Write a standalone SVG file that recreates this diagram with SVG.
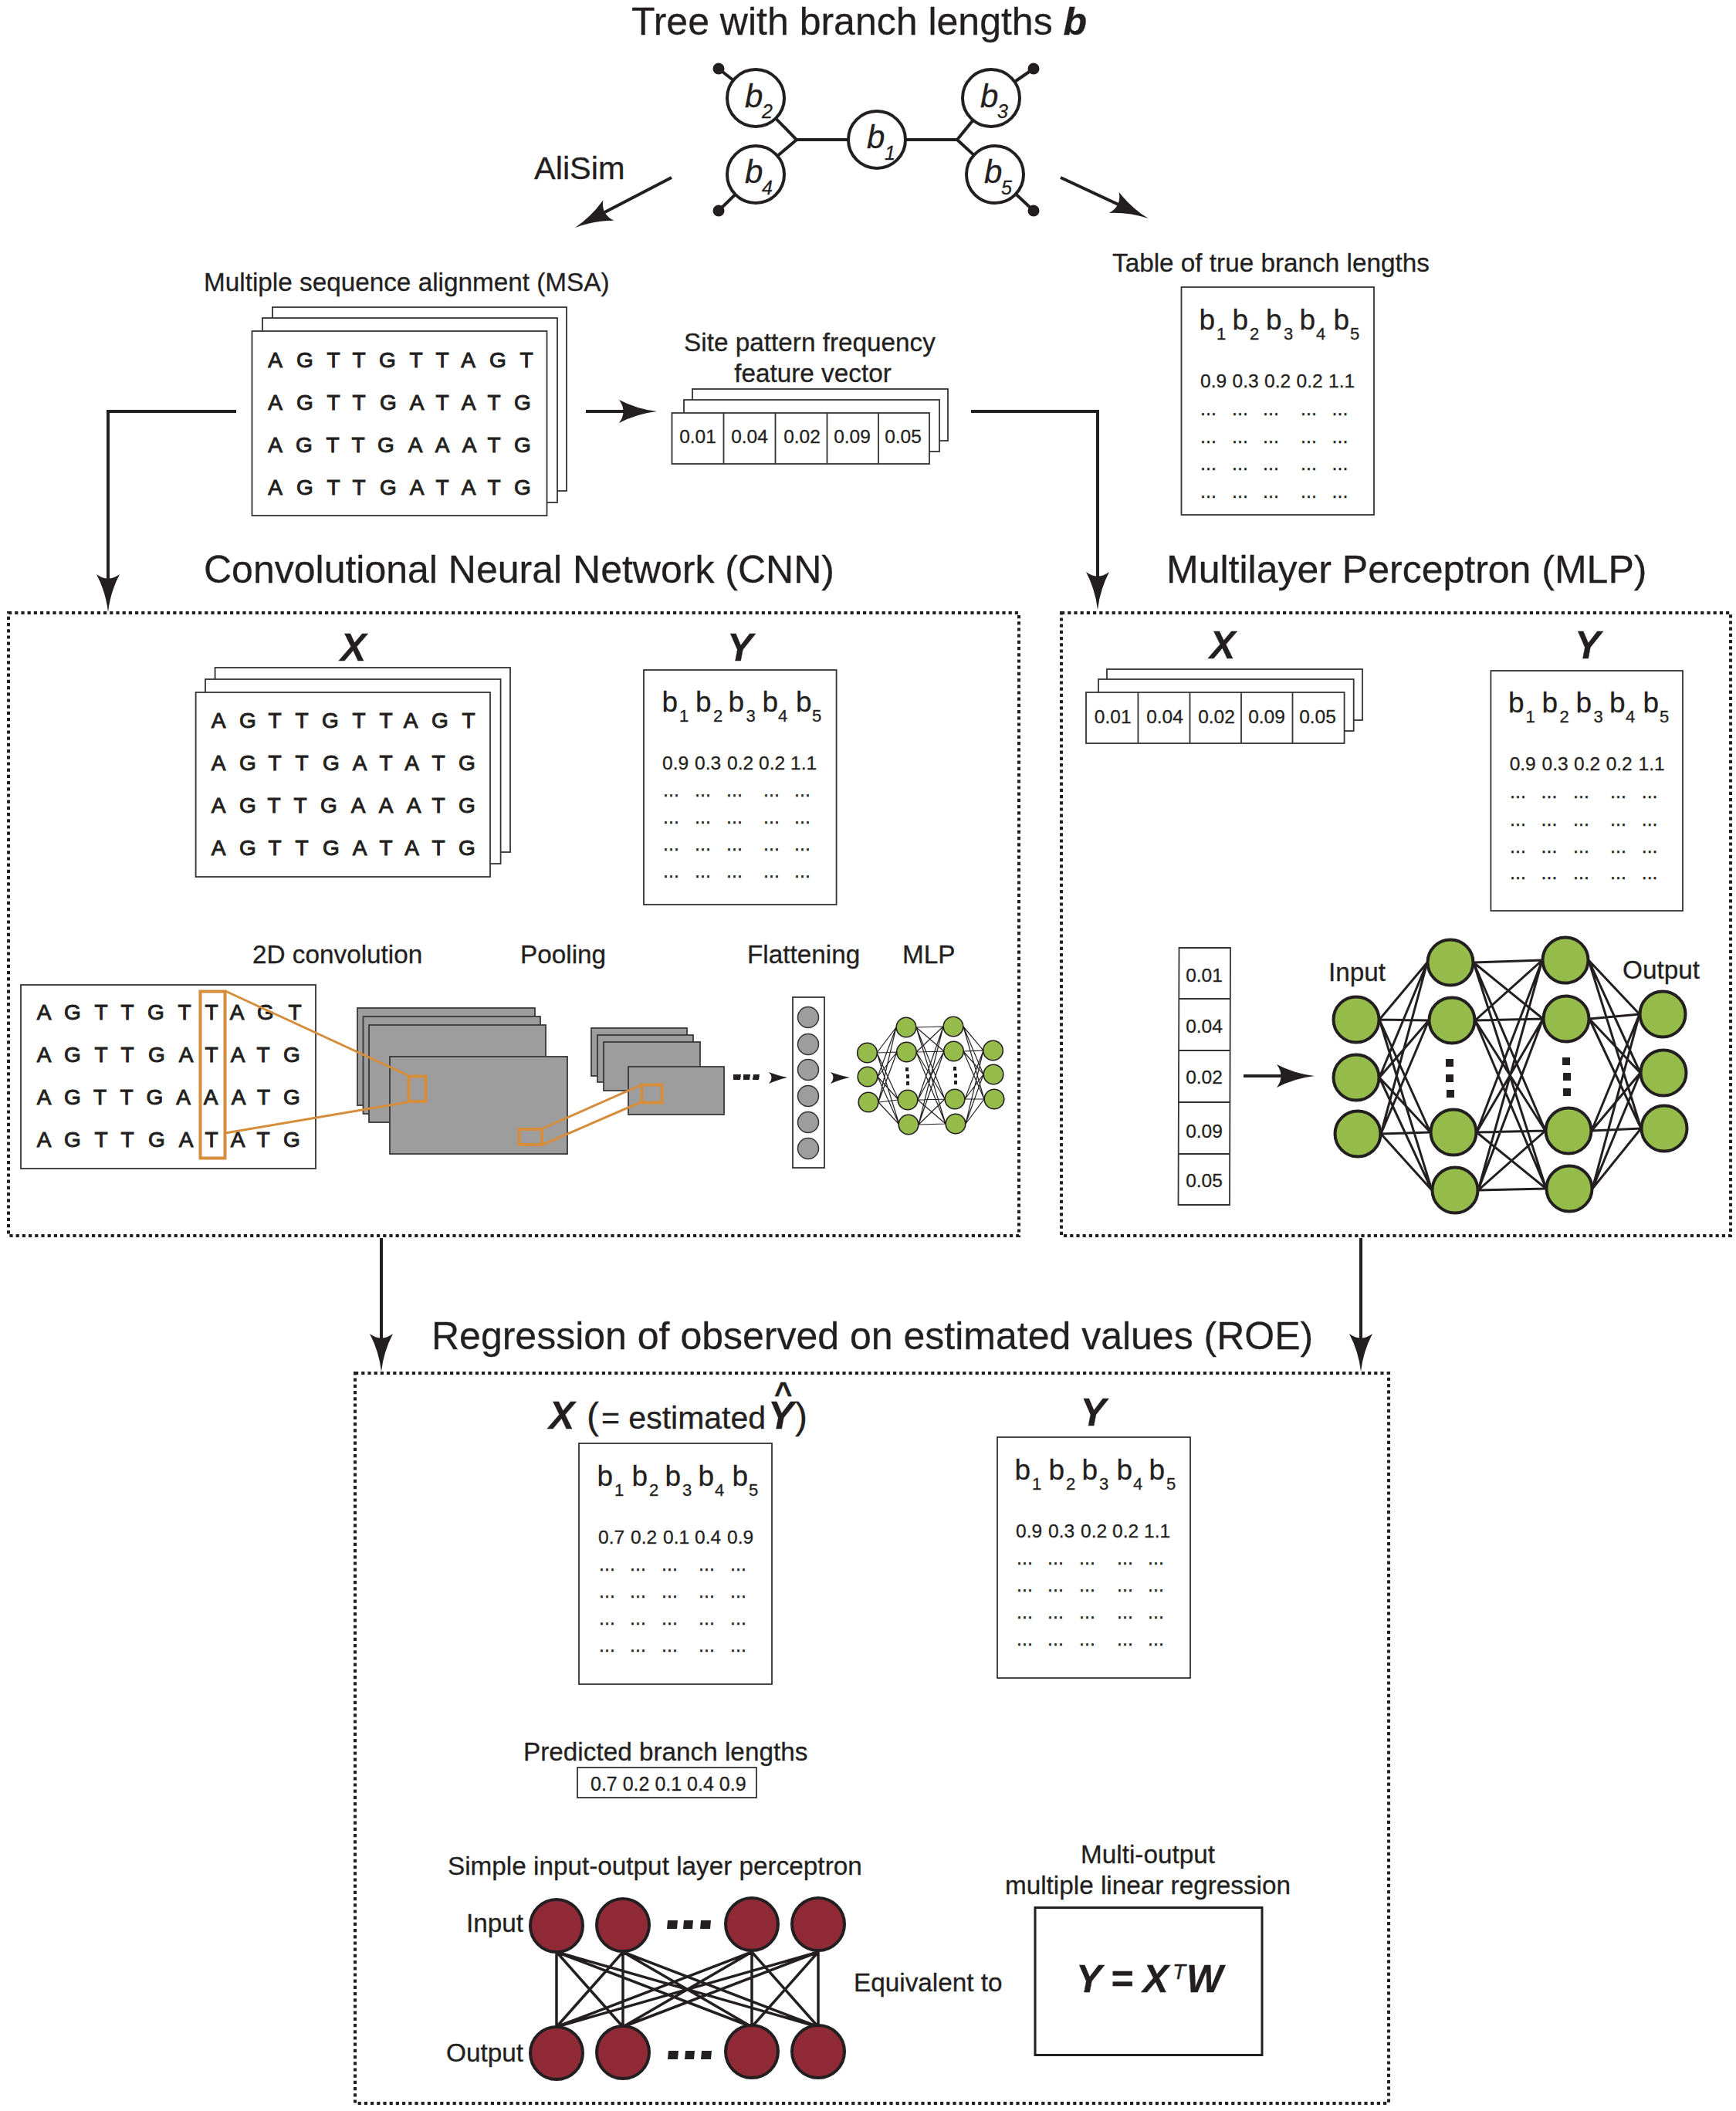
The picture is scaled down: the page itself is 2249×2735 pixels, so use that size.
<svg xmlns="http://www.w3.org/2000/svg" width="2249" height="2735" viewBox="0 0 2249 2735">
<style>
text{font-family:"Liberation Sans",Arial,sans-serif;fill:#231f20;stroke:#231f20;stroke-width:.3}
.t50{font-size:50px}.t33{font-size:33.3px}.t25{font-size:24.5px}.mid{text-anchor:middle}
.bi{font-weight:bold;font-style:italic;font-size:50px}
.h{font-size:37px}.s{font-size:22px}.d{font-size:25px}
.dna{font-size:28px;text-anchor:middle;stroke:#231f20;stroke-width:1}
.ci{font-style:italic;font-size:42px}.cs{font-style:italic;font-size:25px}
.box{fill:#fff;stroke:#333;stroke-width:1.8}
.dot{fill:none;stroke:#231f20;stroke-width:4;stroke-dasharray:4.2 4}
.line{fill:none;stroke:#231f20;stroke-width:4}
.arr{fill:none;stroke:#231f20;stroke-width:4;marker-end:url(#ah)}
.ink{fill:#231f20}
.tn{fill:#fff;stroke:#231f20;stroke-width:4}
.gr{fill:#9d9d9d;stroke:#3a3a3a;stroke-width:1.8}
.gc{fill:#9d9d9d;stroke:#333;stroke-width:1.5}
.or{fill:none;stroke:#d68d3b;stroke-width:3}
.orb{fill:none;stroke:#d68d3b;stroke-width:4}
.g1{fill:#95bc4b;stroke:#231f20;stroke-width:1.6}
.g2{fill:#95bc4b;stroke:#231f20;stroke-width:4}
.rd{fill:#902a36;stroke:#231f20;stroke-width:4}
</style>
<defs>
<marker id="ah" markerUnits="userSpaceOnUse" markerWidth="50" markerHeight="32" viewBox="0 0 50 32" refX="25" refY="16" orient="auto">
<path d="M50 16Q24 19 1 31Q12 16 1 1Q24 13 50 16Z" fill="#231f20"/>
</marker>
</defs>
<rect width="2249" height="2735" fill="#fff"/>

<g id="connectors">
<path class="line" d="M931 89L979 127M1339 89L1284 127M931 273L979 226M1339 273L1289 226M979 127L1032 181L979 226M1032 181H1240M1284 127L1240 181L1289 226"/>
<path class="arr" d="M870 230L767 283.5"/>
<path class="arr" d="M1374 230L1465 272.5"/>
<path class="arr" d="M306 533H140V768"/>
<path class="arr" d="M759 533H826"/>
<path class="arr" d="M1258 533H1422V765"/>
<path class="arr" d="M494 1604V1752"/>
<path class="arr" d="M1763 1604V1752"/>
<path class="arr" d="M1611 1394H1678"/>
</g>

<g id="title"><text class="t50" x="818" y="45">Tree with branch lengths <tspan class="bi">b</tspan></text></g>
<g id="tree">
<g id="leaves" class="ink"><circle cx="931" cy="89" r="7.5"/><circle cx="1339" cy="89" r="7.5"/><circle cx="931" cy="273" r="7.5"/><circle cx="1339" cy="273" r="7.5"/></g>
<g id="tree-b2"><circle class="tn" cx="979" cy="127" r="37"/><text class="ci" x="965" y="139">b</text><text class="cs" x="987" y="153">2</text></g>
<g id="tree-b4"><circle class="tn" cx="979" cy="226" r="37"/><text class="ci" x="965" y="237">b</text><text class="cs" x="987" y="252">4</text></g>
<g id="tree-b1"><circle class="tn" cx="1136" cy="181" r="37"/><text class="ci" x="1123" y="192">b</text><text class="cs" x="1146" y="207">1</text></g>
<g id="tree-b3"><circle class="tn" cx="1284" cy="127" r="37"/><text class="ci" x="1270" y="139">b</text><text class="cs" x="1292" y="153">3</text></g>
<g id="tree-b5"><circle class="tn" cx="1289" cy="226" r="37"/><text class="ci" x="1275" y="237">b</text><text class="cs" x="1297" y="252">5</text></g>
</g>
<g id="alisim"><text x="692" y="232" font-size="41.5">AliSim</text></g>

<g id="msa">
<text class="t33" x="264" y="377">Multiple sequence alignment (MSA)</text>
<rect class="box" x="353" y="398" width="381" height="238"/>
<rect class="box" x="340" y="412" width="382" height="239"/>
<rect class="box" x="326.5" y="429" width="382" height="239"/>
<text class="dna" y="476" x="356.5 395 432 465 502 539 573 606.5 645 682">AGTTGTTAGT</text>
<text class="dna" y="531" x="356.5 395 432 465 503 540 573 607 640 677">AGTTGATATG</text>
<text class="dna" y="586" x="356.5 394 431 464 500 538 573 608 640 677">AGTTGAAATG</text>
<text class="dna" y="641" x="356.5 395 432 465 503 540 573 607 640 677">AGTTGATATG</text>
</g>

<g id="feature-vector">
<text class="t33 mid" x="1049" y="455">Site pattern frequency</text>
<text class="t33 mid" x="1053" y="495">feature vector</text>
<rect class="box" x="897" y="504" width="331" height="67"/>
<rect class="box" x="886" y="518" width="331" height="67"/>
<rect class="box" x="870.5" y="535" width="333.5" height="66"/>
<path class="line" style="stroke-width:1.8;stroke:#333" d="M937.5 535V601M1004.5 535V601M1071.5 535V601M1138 535V601"/>
<text class="t25 mid" y="574"><tspan x="904">0.01</tspan><tspan x="971">0.04</tspan><tspan x="1039">0.02</tspan><tspan x="1104">0.09</tspan><tspan x="1170">0.05</tspan></text>
</g>

<g id="true-table">
<text class="t33" x="1441" y="352">Table of true branch lengths</text>
<rect class="box" x="1530.5" y="372" width="249.5" height="295"/>
<text class="h" y="427"><tspan x="1553.5">b</tspan><tspan class="s" x="1576" y="440">1</tspan><tspan x="1596.5" y="427">b</tspan><tspan class="s" x="1619" y="440">2</tspan><tspan x="1640" y="427">b</tspan><tspan class="s" x="1663" y="440">3</tspan><tspan x="1683.5" y="427">b</tspan><tspan class="s" x="1705" y="440">4</tspan><tspan x="1727.5" y="427">b</tspan><tspan class="s" x="1749" y="440">5</tspan></text>
<text class="t25" y="502"><tspan x="1555">0.9</tspan><tspan x="1596.5">0.3</tspan><tspan x="1638">0.2</tspan><tspan x="1679.5">0.2</tspan><tspan x="1721">1.1</tspan></text>
<text class="d" y="538"><tspan x="1555">...</tspan><tspan x="1596">...</tspan><tspan x="1636">...</tspan><tspan x="1685">...</tspan><tspan x="1725.5">...</tspan></text>
<text class="d" y="574"><tspan x="1555">...</tspan><tspan x="1596">...</tspan><tspan x="1636">...</tspan><tspan x="1685">...</tspan><tspan x="1725.5">...</tspan></text>
<text class="d" y="609"><tspan x="1555">...</tspan><tspan x="1596">...</tspan><tspan x="1636">...</tspan><tspan x="1685">...</tspan><tspan x="1725.5">...</tspan></text>
<text class="d" y="645"><tspan x="1555">...</tspan><tspan x="1596">...</tspan><tspan x="1636">...</tspan><tspan x="1685">...</tspan><tspan x="1725.5">...</tspan></text>
</g>

<g id="cnn-panel">
<text class="t50" x="264" y="755">Convolutional Neural Network (CNN)</text>
<rect class="dot" x="11" y="794" width="1309" height="807"/>
<text class="bi" x="441" y="856">X</text>
<text class="bi" x="942" y="856">Y</text>
</g>

<g id="cnn-x">
<rect class="box" x="278.6" y="865" width="382.4" height="239"/>
<rect class="box" x="266" y="880" width="382.6" height="239"/>
<rect class="box" x="253.6" y="897" width="381.4" height="239"/>
<text class="dna" y="943" x="283 321 356 391 428 465 500 532 570 607">AGTTGTTAGT</text>
<text class="dna" y="998" x="283 321 356 391 429 466 500 533.5 568 605">AGTTGATATG</text>
<text class="dna" y="1053" x="283 321 355 389 426 464 500 536 568 605">AGTTGAAATG</text>
<text class="dna" y="1108" x="283 321 356 391 429 466 500 533.5 568 605">AGTTGATATG</text>
</g>

<g id="cnn-y">
<rect class="box" x="834" y="868" width="249.6" height="304"/>
<text class="h" y="922"><tspan x="857.5">b</tspan><tspan class="s" x="880" y="935">1</tspan><tspan x="901" y="922">b</tspan><tspan class="s" x="924" y="935">2</tspan><tspan x="943.5" y="922">b</tspan><tspan class="s" x="966.5" y="935">3</tspan><tspan x="987.5" y="922">b</tspan><tspan class="s" x="1008" y="935">4</tspan><tspan x="1031" y="922">b</tspan><tspan class="s" x="1052" y="935">5</tspan></text>
<text class="t25" y="997"><tspan x="858">0.9</tspan><tspan x="900">0.3</tspan><tspan x="942">0.2</tspan><tspan x="983">0.2</tspan><tspan x="1024">1.1</tspan></text>
<text class="d" y="1032"><tspan x="859">...</tspan><tspan x="900">...</tspan><tspan x="941">...</tspan><tspan x="989">...</tspan><tspan x="1029">...</tspan></text>
<text class="d" y="1067"><tspan x="859">...</tspan><tspan x="900">...</tspan><tspan x="941">...</tspan><tspan x="989">...</tspan><tspan x="1029">...</tspan></text>
<text class="d" y="1102"><tspan x="859">...</tspan><tspan x="900">...</tspan><tspan x="941">...</tspan><tspan x="989">...</tspan><tspan x="1029">...</tspan></text>
<text class="d" y="1137"><tspan x="859">...</tspan><tspan x="900">...</tspan><tspan x="941">...</tspan><tspan x="989">...</tspan><tspan x="1029">...</tspan></text>
</g>

<g id="cnn-stages">
<text class="t33" x="327" y="1248">2D convolution</text>
<text class="t33" x="674" y="1248">Pooling</text>
<text class="t33" x="968" y="1248">Flattening</text>
<text class="t33" x="1169" y="1248">MLP</text>
</g>

<g id="conv-input">
<rect class="box" x="27" y="1276" width="382" height="238"/>
<text class="dna" y="1321" x="57 94 131 165 202 239 274 307 344 382">AGTTGTTAGT</text>
<text class="dna" y="1376" x="57 94 131 165 203 241 274 308 341 378">AGTTGATATG</text>
<text class="dna" y="1431" x="57 94 129.5 164 200.5 237.5 273 309 341.5 378">AGTTGAAATG</text>
<text class="dna" y="1486" x="57 94 131 165 203 241 274 308 341 378">AGTTGATATG</text>
</g>

<g id="conv-maps">
<rect class="gr" x="463" y="1306" width="230" height="126"/>
<rect class="gr" x="470.5" y="1317" width="229.5" height="126"/>
<rect class="gr" x="478" y="1328" width="229" height="126"/>
<rect class="gr" x="505" y="1369" width="230" height="126"/>
</g>
<g id="pool-maps">
<rect class="gr" x="766" y="1332" width="124" height="62"/>
<rect class="gr" x="774" y="1341" width="124" height="61"/>
<rect class="gr" x="782" y="1350" width="125" height="63"/>
<rect class="gr" x="814" y="1382" width="124" height="62"/>
</g>
<g id="orange-highlights">
<rect class="orb" x="259.5" y="1284.5" width="32" height="216"/>
<path class="or" d="M292 1284L528 1393M292 1468L528 1428M703 1462L830 1406M703 1483L830 1428"/>
<rect class="orb" x="529.5" y="1394.5" width="22" height="32.5"/>
<rect class="orb" x="672.5" y="1463" width="29.5" height="20"/>
<rect class="orb" x="831.5" y="1405.5" width="26" height="23"/>
</g>
<g id="flow-marks" class="ink">
<path d="M950 1392H960L959 1399H950ZM963 1392H972L971 1399H963ZM976 1392H984L983 1399H975Z"/>
<path d="M996 1389Q1010 1394 1020 1396Q1010 1398 996 1404Q1003 1396 996 1389Z"/>
<path d="M1076 1389Q1090 1394 1101 1396Q1090 1398 1076 1404Q1083 1396 1076 1389Z"/>
</g>
<g id="flatten">
<rect class="box" x="1027" y="1292" width="41" height="221"/>
<circle class="gc" cx="1047" cy="1318" r="13.5"/><circle class="gc" cx="1047" cy="1353" r="13.5"/><circle class="gc" cx="1047" cy="1386" r="13.5"/><circle class="gc" cx="1047" cy="1420" r="13.5"/><circle class="gc" cx="1047" cy="1454" r="13.5"/><circle class="gc" cx="1047" cy="1488" r="13.5"/>
</g>
<g id="cnn-mlp">
<path fill="none" stroke="#231f20" stroke-width="1.2" d="M1136 1364L1161 1331M1136 1364L1162 1363M1136 1364L1164 1425M1136 1364L1165 1457M1137 1395L1161 1331M1137 1395L1162 1363M1137 1395L1164 1425M1137 1395L1165 1457M1138 1428L1161 1331M1138 1428L1162 1363M1138 1428L1164 1425M1138 1428L1165 1457M1187 1331L1222 1330M1187 1331L1223 1362M1187 1331L1224 1424M1187 1331L1225 1456M1187 1363L1222 1330M1187 1363L1223 1362M1187 1363L1224 1424M1187 1363L1225 1456M1189 1425L1222 1330M1189 1425L1223 1362M1189 1425L1224 1424M1189 1425L1225 1456M1190 1457L1222 1330M1190 1457L1223 1362M1190 1457L1224 1424M1190 1457L1225 1456M1248 1330L1274 1361M1248 1330L1274 1392M1248 1330L1275 1424M1248 1362L1274 1361M1248 1362L1274 1392M1248 1362L1275 1424M1250 1424L1274 1361M1250 1424L1274 1392M1250 1424L1275 1424M1251 1456L1274 1361M1251 1456L1274 1392M1251 1456L1275 1424"/>
<circle class="g1" cx="1123.5" cy="1364" r="12.8"/><circle class="g1" cx="1124" cy="1395" r="12.8"/><circle class="g1" cx="1125" cy="1428" r="12.8"/>
<circle class="g1" cx="1174" cy="1331" r="12.8"/><circle class="g1" cx="1174.5" cy="1363" r="12.8"/><circle class="g1" cx="1176" cy="1425" r="12.8"/><circle class="g1" cx="1177" cy="1457" r="12.8"/>
<circle class="g1" cx="1235" cy="1330" r="12.8"/><circle class="g1" cx="1235.5" cy="1362" r="12.8"/><circle class="g1" cx="1237" cy="1424" r="12.8"/><circle class="g1" cx="1238" cy="1456" r="12.8"/>
<circle class="g1" cx="1286.5" cy="1361" r="12.8"/><circle class="g1" cx="1287" cy="1392" r="12.8"/><circle class="g1" cx="1288" cy="1424" r="12.8"/>
<path class="ink" d="M1173 1383h4v5h-4zM1174 1392h4v5h-4zM1174 1401h4v5h-4zM1235 1382h4v5h-4zM1236 1391h4v5h-4zM1236 1400h4v5h-4z"/>
</g>

<g id="mlp-panel">
<text class="t50" x="1511" y="755">Multilayer Perceptron (MLP)</text>
<rect class="dot" x="1375" y="794" width="867" height="807"/>
<text class="bi" x="1567" y="853">X</text>
<text class="bi" x="2040" y="853">Y</text>
</g>
<g id="mlp-x">
<rect class="box" x="1434" y="867" width="331" height="66"/>
<rect class="box" x="1423" y="880" width="330.7" height="67"/>
<rect class="box" x="1407" y="897" width="334.6" height="66"/>
<path class="line" style="stroke-width:1.8;stroke:#333" d="M1474.4 897V963M1541.5 897V963M1608 897V963M1674.5 897V963"/>
<text class="t25 mid" y="937"><tspan x="1441.7">0.01</tspan><tspan x="1509">0.04</tspan><tspan x="1576">0.02</tspan><tspan x="1641">0.09</tspan><tspan x="1707">0.05</tspan></text>
</g>
<g id="mlp-y">
<rect class="box" x="1931.4" y="869" width="248.6" height="311"/>
<text class="h" y="923"><tspan x="1954">b</tspan><tspan class="s" x="1976.5" y="936">1</tspan><tspan x="1997.5" y="923">b</tspan><tspan class="s" x="2020.5" y="936">2</tspan><tspan x="2041.5" y="923">b</tspan><tspan class="s" x="2064.5" y="936">3</tspan><tspan x="2085" y="923">b</tspan><tspan class="s" x="2106" y="936">4</tspan><tspan x="2128.5" y="923">b</tspan><tspan class="s" x="2150" y="936">5</tspan></text>
<text class="t25" y="998"><tspan x="1955.7">0.9</tspan><tspan x="1997.5">0.3</tspan><tspan x="2039">0.2</tspan><tspan x="2080.7">0.2</tspan><tspan x="2122.5">1.1</tspan></text>
<text class="d" y="1034"><tspan x="1956">...</tspan><tspan x="1996.5">...</tspan><tspan x="2038">...</tspan><tspan x="2086">...</tspan><tspan x="2126.7">...</tspan></text>
<text class="d" y="1070"><tspan x="1956">...</tspan><tspan x="1996.5">...</tspan><tspan x="2038">...</tspan><tspan x="2086">...</tspan><tspan x="2126.7">...</tspan></text>
<text class="d" y="1105"><tspan x="1956">...</tspan><tspan x="1996.5">...</tspan><tspan x="2038">...</tspan><tspan x="2086">...</tspan><tspan x="2126.7">...</tspan></text>
<text class="d" y="1139"><tspan x="1956">...</tspan><tspan x="1996.5">...</tspan><tspan x="2038">...</tspan><tspan x="2086">...</tspan><tspan x="2126.7">...</tspan></text>
</g>
<g id="mlp-input-vector">
<path class="box" d="M1527.5 1228H1594L1593 1561H1526.5Z"/>
<path class="line" style="stroke-width:1.8;stroke:#333" d="M1527 1294H1594M1527 1361H1594M1527 1428H1594M1527 1495H1593"/>
<text class="t25 mid" x="1560" y="1272">0.01</text>
<text class="t25 mid" x="1560" y="1338">0.04</text>
<text class="t25 mid" x="1560" y="1404">0.02</text>
<text class="t25 mid" x="1560" y="1474">0.09</text>
<text class="t25 mid" x="1560" y="1538">0.05</text>
</g>
<g id="mlp-net">
<text class="t33" x="1721" y="1271">Input</text>
<text class="t33" x="2102" y="1268">Output</text>
<path fill="none" stroke="#231f20" stroke-width="3" d="M1787 1321L1849 1247M1787 1321L1851 1322M1787 1321L1853 1467M1787 1321L1855 1542M1787 1396L1849 1247M1787 1396L1851 1322M1787 1396L1853 1467M1787 1396L1855 1542M1789 1469L1849 1247M1789 1469L1851 1322M1789 1469L1853 1467M1789 1469L1855 1542M1909 1247L1998 1244M1909 1247L1999 1320M1909 1247L2002 1465M1909 1247L2003 1540M1911 1322L1998 1244M1911 1322L1999 1320M1911 1322L2002 1465M1911 1322L2003 1540M1913 1467L1998 1244M1913 1467L1999 1320M1913 1467L2002 1465M1913 1467L2003 1540M1915 1542L1998 1244M1915 1542L1999 1320M1915 1542L2002 1465M1915 1542L2003 1540M2058 1244L2124 1314M2058 1244L2125 1390M2058 1244L2126 1462M2059 1320L2124 1314M2059 1320L2125 1390M2059 1320L2126 1462M2062 1465L2124 1314M2062 1465L2125 1390M2062 1465L2126 1462M2063 1540L2124 1314M2063 1540L2125 1390M2063 1540L2126 1462"/>
<circle class="g2" cx="1757" cy="1321" r="29.5"/><circle class="g2" cx="1757" cy="1396" r="29.5"/><circle class="g2" cx="1759" cy="1469" r="29.5"/>
<circle class="g2" cx="1879" cy="1247" r="29.5"/><circle class="g2" cx="1881" cy="1322" r="29.5"/><circle class="g2" cx="1883" cy="1467" r="29.5"/><circle class="g2" cx="1885" cy="1542" r="29.5"/>
<circle class="g2" cx="2028" cy="1244" r="29.5"/><circle class="g2" cx="2029" cy="1320" r="29.5"/><circle class="g2" cx="2032" cy="1465" r="29.5"/><circle class="g2" cx="2033" cy="1540" r="29.5"/>
<circle class="g2" cx="2154" cy="1314" r="29.5"/><circle class="g2" cx="2155" cy="1390" r="29.5"/><circle class="g2" cx="2156" cy="1462" r="29.5"/>
<path class="ink" d="M1873 1372h10v10h-10zM1873 1392h10v10h-10zM1874 1412h10v10h-10zM2024 1370h10v10h-10zM2025 1390h10v10h-10zM2025 1410h10v10h-10z"/>
</g>

<g id="roe-panel">
<text class="t50" x="559" y="1748">Regression of observed on estimated values (ROE)</text>
<rect class="dot" x="460" y="1779" width="1339" height="946"/>
<text y="1851"><tspan class="bi" x="711">X</tspan><tspan font-size="48" x="760">(</tspan><tspan font-size="41" x="779">= estimated</tspan><tspan class="bi" x="995">Y</tspan><tspan font-size="40" font-weight="bold" x="1003" y="1819">^</tspan><tspan font-size="48" x="1030" y="1851">)</tspan></text>
<text class="bi" x="1399.5" y="1847">Y</text>
</g>
<g id="roe-x">
<rect class="box" x="750" y="1870" width="250" height="312"/>
<text class="h" y="1925"><tspan x="773.5">b</tspan><tspan class="s" x="796" y="1938">1</tspan><tspan x="818.5" y="1925">b</tspan><tspan class="s" x="841" y="1938">2</tspan><tspan x="861.5" y="1925">b</tspan><tspan class="s" x="884" y="1938">3</tspan><tspan x="904.5" y="1925">b</tspan><tspan class="s" x="926" y="1938">4</tspan><tspan x="948.5" y="1925">b</tspan><tspan class="s" x="970" y="1938">5</tspan></text>
<text class="t25" y="2000"><tspan x="775">0.7</tspan><tspan x="817">0.2</tspan><tspan x="859">0.1</tspan><tspan x="900">0.4</tspan><tspan x="942">0.9</tspan></text>
<text class="d" y="2035"><tspan x="776">...</tspan><tspan x="816">...</tspan><tspan x="857">...</tspan><tspan x="905">...</tspan><tspan x="946">...</tspan></text>
<text class="d" y="2070"><tspan x="776">...</tspan><tspan x="816">...</tspan><tspan x="857">...</tspan><tspan x="905">...</tspan><tspan x="946">...</tspan></text>
<text class="d" y="2105"><tspan x="776">...</tspan><tspan x="816">...</tspan><tspan x="857">...</tspan><tspan x="905">...</tspan><tspan x="946">...</tspan></text>
<text class="d" y="2140"><tspan x="776">...</tspan><tspan x="816">...</tspan><tspan x="857">...</tspan><tspan x="905">...</tspan><tspan x="946">...</tspan></text>
</g>
<g id="roe-y">
<rect class="box" x="1292" y="1862" width="250" height="312"/>
<text class="h" y="1917"><tspan x="1314.5">b</tspan><tspan class="s" x="1337" y="1930">1</tspan><tspan x="1358.5" y="1917">b</tspan><tspan class="s" x="1381" y="1930">2</tspan><tspan x="1401.5" y="1917">b</tspan><tspan class="s" x="1424" y="1930">3</tspan><tspan x="1446.5" y="1917">b</tspan><tspan class="s" x="1468" y="1930">4</tspan><tspan x="1488.5" y="1917">b</tspan><tspan class="s" x="1511" y="1930">5</tspan></text>
<text class="t25" y="1992"><tspan x="1316">0.9</tspan><tspan x="1358">0.3</tspan><tspan x="1400">0.2</tspan><tspan x="1441">0.2</tspan><tspan x="1482">1.1</tspan></text>
<text class="d" y="2027"><tspan x="1317">...</tspan><tspan x="1357">...</tspan><tspan x="1398">...</tspan><tspan x="1447">...</tspan><tspan x="1487">...</tspan></text>
<text class="d" y="2062"><tspan x="1317">...</tspan><tspan x="1357">...</tspan><tspan x="1398">...</tspan><tspan x="1447">...</tspan><tspan x="1487">...</tspan></text>
<text class="d" y="2097"><tspan x="1317">...</tspan><tspan x="1357">...</tspan><tspan x="1398">...</tspan><tspan x="1447">...</tspan><tspan x="1487">...</tspan></text>
<text class="d" y="2132"><tspan x="1317">...</tspan><tspan x="1357">...</tspan><tspan x="1398">...</tspan><tspan x="1447">...</tspan><tspan x="1487">...</tspan></text>
</g>
<g id="predicted">
<text class="t33" x="678" y="2281">Predicted branch lengths</text>
<rect class="box" x="748" y="2290" width="232" height="39"/>
<text class="t25" x="765" y="2320" style="font-size:25px">0.7 0.2 0.1 0.4 0.9</text>
</g>
<g id="perceptron">
<text class="t33" x="580" y="2429">Simple input-output layer perceptron</text>
<text class="t33" x="604" y="2503">Input</text>
<text class="t33" x="578" y="2671">Output</text>
<path fill="none" stroke="#231f20" stroke-width="3.5" d="M721 2529L721 2626M721 2529L807 2626M721 2529L974 2626M721 2529L1060 2626M807 2529L721 2626M807 2529L807 2626M807 2529L974 2626M807 2529L1060 2626M974 2529L721 2626M974 2529L807 2626M974 2529L974 2626M974 2529L1060 2626M1060 2529L721 2626M1060 2529L807 2626M1060 2529L974 2626M1060 2529L1060 2626"/>
<circle class="rd" cx="721" cy="2495" r="34"/><circle class="rd" cx="807" cy="2494" r="34"/><circle class="rd" cx="974" cy="2493" r="34"/><circle class="rd" cx="1060" cy="2493" r="34"/>
<circle class="rd" cx="721" cy="2660" r="34"/><circle class="rd" cx="807" cy="2659" r="34"/><circle class="rd" cx="974" cy="2658" r="34"/><circle class="rd" cx="1060" cy="2658" r="34"/>
<path class="ink" d="M865 2488h13l-1 11h-13zM886 2488h12l-1 11h-12zM908 2488h13l-1 11h-13zM866 2657h13l-1 11h-13zM888 2657h12l-1 11h-12zM909 2657h13l-1 11h-13z"/>
</g>
<g id="equiv"><text class="t33" x="1106" y="2580">Equivalent to</text></g>
<g id="regression">
<text class="t33 mid" x="1487" y="2414">Multi-output</text>
<text class="t33 mid" x="1487" y="2454">multiple linear regression</text>
<rect fill="#fff" stroke="#231f20" stroke-width="3" x="1341" y="2471.5" width="294" height="191"/>
<text class="bi" y="2581"><tspan x="1394" letter-spacing="-.75">Y = X</tspan><tspan x="1519" y="2564" font-weight="normal" font-size="28">T</tspan><tspan x="1537" y="2581">W</tspan></text>
</g>
</svg>
